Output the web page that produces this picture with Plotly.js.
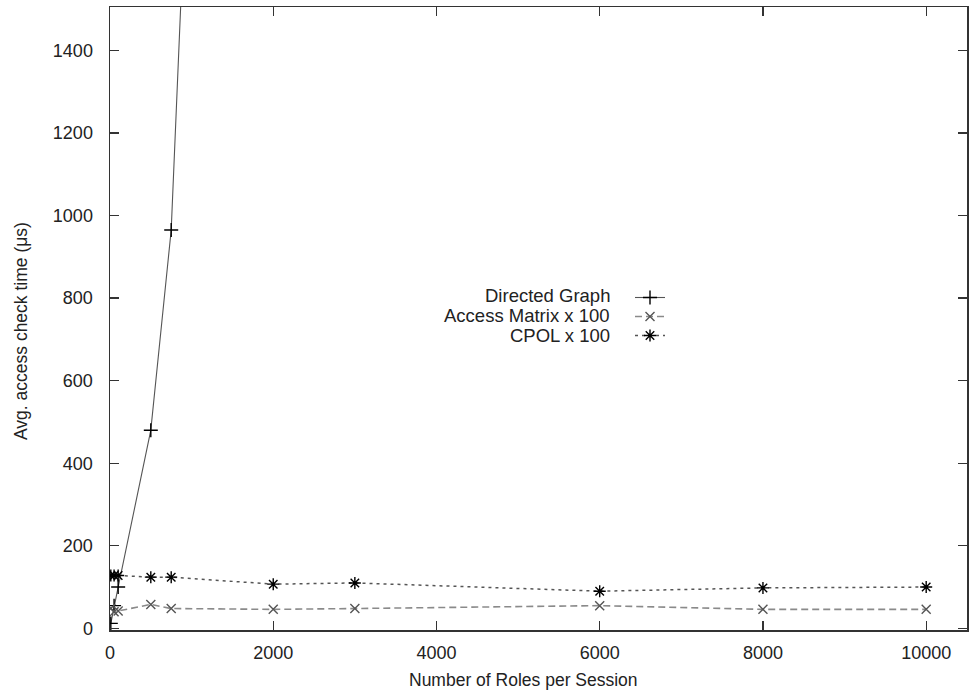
<!DOCTYPE html>
<html>
<head>
<meta charset="utf-8">
<script src="https://cdn.plot.ly/plotly-3.0.1.min.js"></script>
<style>html,body{margin:0;padding:0;background:#fff;}#chart{width:969px;height:696px;}</style>
</head>
<body>
<div id="chart"></div>
<script>
// Data
const seriesNames = ["Directed Graph", "Access Matrix x 100", "CPOL x 100"];
const dgX = [10, 50, 100, 500, 750, 2000];
const dgY = [12, 55, 100, 480, 965, 6800];
const amX = [10, 50, 100, 500, 750, 2000, 3000, 6000, 8000, 10000];
const amY = [48, 40, 42, 58, 48, 46, 48, 55, 46, 46];
const cpX = [10, 50, 100, 500, 750, 2000, 3000, 6000, 8000, 10000];
const cpY = [128, 128, 128, 124, 124, 107, 110, 90, 98, 100];
const xTicks = [0, 2000, 4000, 6000, 8000, 10000];
const yTicks = [0, 200, 400, 600, 800, 1000, 1200, 1400];
const xTitle = "Number of Roles per Session";
const yTitle = "Avg. access check time (μs)";

const FONT = "Liberation Sans, Arial, sans-serif";
const styles = [
  {line: {color: "#555", width: 1.1, dash: "solid"},
   marker: {symbol: "cross-thin", size: 10, line: {color: "#000", width: 1.4}}},
  {line: {color: "#8a8a8a", width: 1.6, dash: "7px,4px"},
   marker: {symbol: "x-thin", size: 9, line: {color: "#555", width: 1.4}}},
  {line: {color: "#555", width: 1.5, dash: "3px,4px"},
   marker: {symbol: "asterisk", size: 10, line: {color: "#000", width: 1.4}}}
];
const xs = [dgX, amX, cpX];
const ys = [dgY, amY, cpY];

const traces = [];
for (let i = 0; i < 3; i++) {
  traces.push({
    type: "scatter", mode: "lines+markers", name: seriesNames[i],
    x: xs[i], y: ys[i], line: styles[i].line, marker: styles[i].marker,
    showlegend: false, cliponaxis: true
  });
}
// legend samples (text is placed on the left via annotations, as in the reference)
for (let i = 0; i < 3; i++) {
  traces.push({
    type: "scatter", mode: "lines+markers", name: "",
    x: [null], y: [null], line: styles[i].line, marker: styles[i].marker,
    showlegend: true, hoverinfo: "skip"
  });
}

const L = 110, R = 967, T = 7, B = 630;
const W = R - L, H = B - T;
const px = p => (p - L) / W;
const py = p => (B - p) / H;

const annotations = [
  {text: xTitle, x: px(523), y: py(680), xref: "paper", yref: "paper",
   xanchor: "center", yanchor: "middle", showarrow: false,
   font: {family: FONT, size: 17.5, color: "#222"}},
  {text: yTitle, x: px(21), y: py(331), xref: "paper", yref: "paper",
   xanchor: "center", yanchor: "middle", showarrow: false, textangle: -90,
   font: {family: FONT, size: 17.5, color: "#222"}}
];
const legendRows = [295, 315, 335];
for (let i = 0; i < 3; i++) {
  annotations.push({text: seriesNames[i], x: px(611), y: py(legendRows[i]),
    xref: "paper", yref: "paper", xanchor: "right", yanchor: "middle",
    showarrow: false, borderpad: 0, font: {family: FONT, size: 18.5, color: "#222"}});
}

const axisCommon = {
  showgrid: false, zeroline: false, showline: true, linecolor: "#333", linewidth: 1.5,
  mirror: "ticks", ticks: "inside", ticklen: 9, tickwidth: 1.3, tickcolor: "#333",
  tickfont: {family: FONT, size: 18, color: "#222"}, ticklabelstandoff: 10
};

const layout = {
  width: 969, height: 696,
  paper_bgcolor: "#fff", plot_bgcolor: "#fff",
  margin: {l: L, r: 969 - R, t: T, b: 696 - B, pad: 0},
  showlegend: true,
  legend: {x: px(630), y: py(283), xanchor: "left", yanchor: "top",
    bgcolor: "rgba(0,0,0,0)", borderwidth: 0, font: {family: FONT, size: 12},
    itemwidth: 30, tracegroupgap: 0},
  xaxis: Object.assign({}, axisCommon, {range: [0, 10500], tickvals: xTicks,
    ticktext: xTicks.map(String), ticklabelstandoff: 6}),
  yaxis: Object.assign({}, axisCommon, {range: [-4, 1505], tickvals: yTicks,
    ticktext: yTicks.map(String), ticklabelstandoff: 12}),
  annotations: annotations
};

Plotly.newPlot("chart", traces, layout, {displayModeBar: false, staticPlot: true});
</script>
</body>
</html>
